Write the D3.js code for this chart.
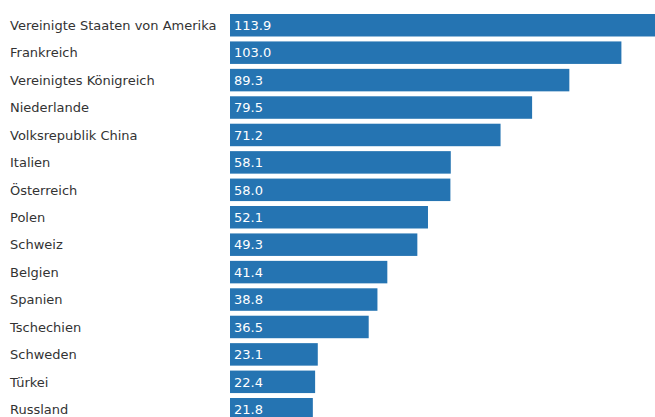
<!DOCTYPE html>
<html>
<head>
<meta charset="utf-8">
<script src="https://cdn.jsdelivr.net/npm/d3@7"></script>
<style>
  html, body { margin: 0; padding: 0; background: #fff; overflow: hidden; }
  svg { display: block; }
  .label { font-family: 'DejaVu Sans', Verdana, sans-serif; font-size: 13px; fill: #333; }
  .bartext { font-family: 'DejaVu Sans', Verdana, sans-serif; font-size: 13px; fill: #fff; }
</style>
</head>
<body>
<div id="chart-container"></div>
<script>
// Countries and values
const countries = [
  'Vereinigte Staaten von Amerika', 'Frankreich', 'Vereinigtes Königreich', 'Niederlande',
  'Volksrepublik China', 'Italien', 'Österreich', 'Polen', 'Schweiz', 'Belgien',
  'Spanien', 'Tschechien', 'Schweden', 'Türkei', 'Russland'
];
const values = [113.9, 103.0, 89.3, 79.5, 71.2, 58.1, 58.0, 52.1, 49.3, 41.4, 38.8, 36.5, 23.1, 22.4, 21.8];

window.onload = () => {
  const width = 655;
  const height = 417;
  const barLeft = 230;

  const svg = d3.select('div#chart-container')
    .append('svg')
    .attr('width', width)
    .attr('height', height);

  const x = d3.scaleLinear()
    .domain([0, 100])
    .range([barLeft, barLeft + 380]);

  const y = d3.scaleBand()
    .domain(countries)
    .range([14, 420.5])
    .paddingInner(0.18)
    .paddingOuter(0);

  const rows = svg.selectAll('g.row')
    .data(countries.map((c, i) => ({ country: c, value: values[i] })))
    .enter()
    .append('g')
    .attr('class', 'row');

  rows.append('rect')
    .attr('x', x(0))
    .attr('y', d => y(d.country))
    .attr('width', d => x(d.value) - x(0))
    .attr('height', y.bandwidth())
    .attr('fill', '#2574b2');

  rows.append('text')
    .attr('class', 'label')
    .attr('x', 10)
    .attr('y', d => y(d.country) + y.bandwidth() / 2)
    .attr('dy', '0.36em')
    .text(d => d.country);

  rows.append('text')
    .attr('class', 'bartext')
    .attr('x', x(0) + 4)
    .attr('y', d => y(d.country) + y.bandwidth() / 2)
    .attr('dy', '0.36em')
    .text(d => d.value.toFixed(1));
};
</script>
</body>
</html>
